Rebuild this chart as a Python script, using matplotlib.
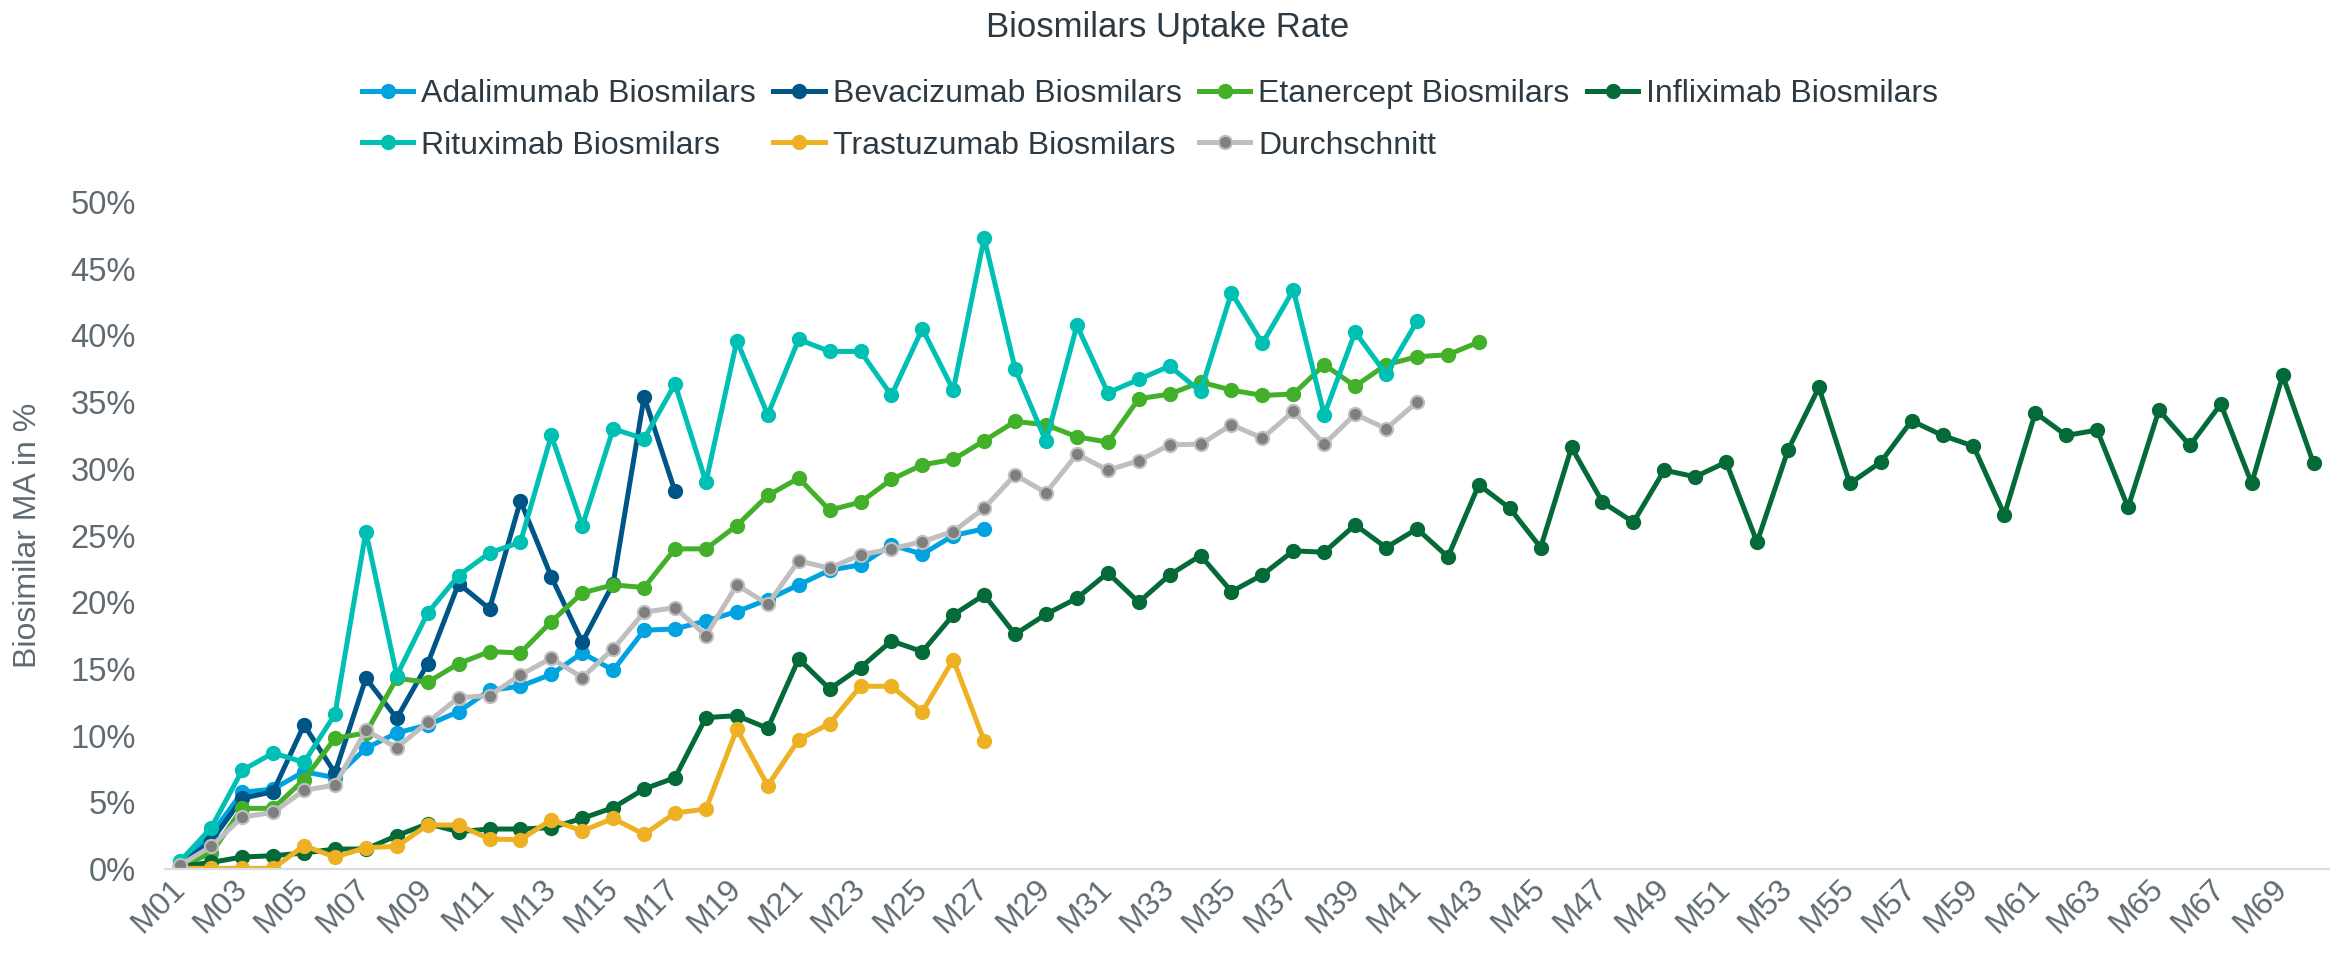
import matplotlib.pyplot as plt

plt.rcParams['font.family'] = ['Liberation Sans', 'DejaVu Sans']

months = [f'M{i:02d}' for i in range(1, 71)]

adalimumab = [0.5, 2.6, 5.75, 6.0, 7.3, 6.85, 9.05, 10.2, 10.8, 11.8,
              13.4, 13.7, 14.6, 16.2, 14.9, 17.9, 18.0, 18.6, 19.3, 20.2,
              21.3, 22.4, 22.8, 24.3, 23.6, 25.0, 25.5]
bevacizumab = [0.3, 2.1, 5.3, 5.8, 10.8, 7.2, 14.3, 11.3, 15.4, 21.4,
               19.5, 27.6, 21.9, 17.0, 21.4, 35.4, 28.3]
etanercept = [0.2, 1.2, 4.55, 4.55, 6.7, 9.8, 10.2, 14.3, 14.0, 15.4,
              16.3, 16.2, 18.55, 20.7, 21.3, 21.1, 24.0, 24.0, 25.75, 28.0,
              29.3, 26.9, 27.5, 29.2, 30.3, 30.7, 32.1, 33.55, 33.3, 32.4,
              32.0, 35.25, 35.6, 36.5, 35.9, 35.5, 35.6, 37.8, 36.2, 37.8,
              38.4, 38.55, 39.5]
infliximab = [0.2, 0.5, 0.9, 1.0, 1.2, 1.5, 1.5, 2.5, 3.4, 2.8,
              3.0, 3.0, 3.1, 3.8, 4.6, 6.0, 6.85, 11.35, 11.5, 10.55,
              15.75, 13.5, 15.1, 17.1, 16.3, 19.05, 20.55, 17.6, 19.1, 20.3,
              22.2, 20.0, 22.05, 23.5, 20.8, 22.05, 23.85, 23.75, 25.8, 24.1,
              25.5, 23.4, 28.8, 27.05, 24.1, 31.6, 27.5, 26.0, 29.9, 29.4,
              30.5, 24.5, 31.4, 36.1, 28.9, 30.5, 33.6, 32.5, 31.7, 26.55,
              34.2, 32.5, 32.9, 27.1, 34.4, 31.75, 34.85, 28.9, 37.0, 30.4]
rituximab = [0.6, 3.1, 7.4, 8.7, 8.0, 11.6, 25.3, 14.5, 19.2, 22.0,
             23.7, 24.5, 32.5, 25.7, 33.0, 32.25, 36.35, 29.0, 39.6, 34.05,
             39.7, 38.8, 38.8, 35.5, 40.5, 35.9, 47.3, 37.5, 32.05, 40.75,
             35.7, 36.7, 37.7, 35.8, 43.2, 39.4, 43.4, 34.05, 40.25, 37.1,
             41.05]
trastuzumab = [0.05, 0.05, 0.05, 0.05, 1.75, 0.9, 1.6, 1.7, 3.3, 3.3,
               2.25, 2.2, 3.7, 2.85, 3.8, 2.6, 4.2, 4.5, 10.5, 6.25,
               9.7, 10.9, 13.7, 13.7, 11.8, 15.7, 9.6]
durchschnitt = [0.3, 1.7, 3.9, 4.25, 5.9, 6.3, 10.4, 9.1, 11.0, 12.85,
                13.0, 14.55, 15.8, 14.35, 16.5, 19.25, 19.6, 17.5, 21.3, 19.85,
                23.1, 22.55, 23.55, 24.0, 24.55, 25.3, 27.05, 29.55, 28.2, 31.1,
                29.9, 30.6, 31.8, 31.85, 33.3, 32.3, 34.3, 31.85, 34.1, 33.0,
                35.0]

series = [
    ('Adalimumab Biosmilars', adalimumab, '#00A3E0', '#00A3E0'),
    ('Bevacizumab Biosmilars', bevacizumab, '#005587', '#005587'),
    ('Etanercept Biosmilars', etanercept, '#43B02A', '#43B02A'),
    ('Infliximab Biosmilars', infliximab, '#046A38', '#046A38'),
    ('Rituximab Biosmilars', rituximab, '#00BFB3', '#00BFB3'),
    ('Trastuzumab Biosmilars', trastuzumab, '#EEB123', '#EEB123'),
    ('Durchschnitt', durchschnitt, '#BFBFBF', '#7F7F7F'),
]

fig = plt.figure(figsize=(23.36, 9.55), dpi=100)
ax = fig.add_axes([0.0706, 0.090, 0.9264, 0.6985])

handles = []
for name, vals, line_c, marker_c in series:
    h, = ax.plot(range(len(vals)), [v / 100 for v in vals], color=line_c,
                 linewidth=3.6, marker='o', markersize=9.5,
                 markerfacecolor=marker_c, markeredgecolor=line_c,
                 markeredgewidth=1.5, label=name)
    handles.append(h)

ax.set_xlim(-0.5, 69.5)
ax.set_ylim(0, 0.5)
ax.set_yticks([i * 0.05 for i in range(11)])
ax.set_yticklabels([f'{i * 5}%' for i in range(11)])
ax.set_xticks(range(0, 70, 2))
ax.set_xticklabels(months[::2])

tick_grey = '#5F6B73'
ax.tick_params(axis='y', length=0, pad=21, labelsize=23.5, labelcolor=tick_grey)
ax.tick_params(axis='x', length=0, pad=11, labelsize=23, labelcolor=tick_grey)
for lbl in ax.get_xticklabels():
    lbl.set_rotation(45)
    lbl.set_ha('right')
    lbl.set_va('center')
    lbl.set_rotation_mode('anchor')

for side in ['top', 'right', 'left']:
    ax.spines[side].set_visible(False)
ax.spines['bottom'].set_color('#D9DEE2')
ax.spines['bottom'].set_linewidth(1.6)

ax.set_ylabel('Biosimilar MA in %', fontsize=23, color=tick_grey)
ax.yaxis.set_label_coords(-0.0564, 0.5)

fig.text(0.5, 0.971, 'Biosmilars Uptake Rate', ha='center', va='center',
         fontsize=25, color='#2D3A43')

# legend fills column by column, so order the entries to read across rows
order = [0, 4, 1, 5, 2, 6, 3]
fig.legend([handles[i] for i in order], [series[i][0] for i in order],
           loc='upper left', bbox_to_anchor=(0.155, 0.917), ncol=4,
           frameon=False, fontsize=23, handlelength=1.6, handletextpad=0.25,
           columnspacing=0.55, labelspacing=0.67, borderpad=0,
           borderaxespad=0, labelcolor='#2D3A43')

fig.savefig('out.png', dpi=100)
